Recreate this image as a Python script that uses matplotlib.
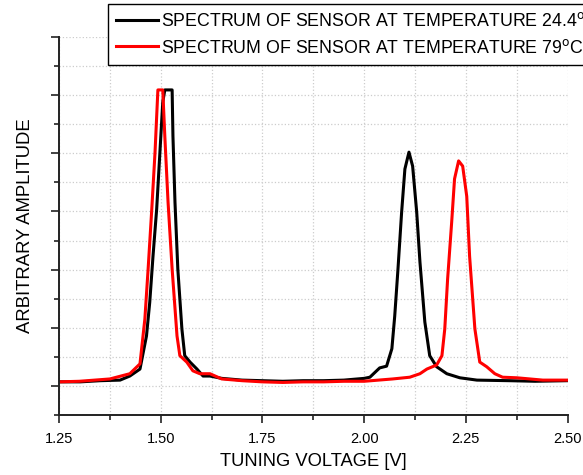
import matplotlib.pyplot as plt
from matplotlib.ticker import MultipleLocator

plt.rcParams['font.family'] = ['Liberation Sans', 'DejaVu Sans']

# -------------------------------
# Data
# -------------------------------
x_black = [1.250, 1.302, 1.351, 1.400, 1.424, 1.449, 1.465, 1.473, 1.481, 1.490,
           1.498, 1.505, 1.510, 1.528, 1.530, 1.535, 1.542, 1.552, 1.559, 1.572,
           1.589, 1.604, 1.621, 1.650, 1.700, 1.750, 1.800, 1.850, 1.900, 1.950,
           2.000, 2.014, 2.038, 2.055, 2.068, 2.075, 2.083, 2.092, 2.100, 2.110,
           2.119, 2.129, 2.137, 2.149, 2.161, 2.178, 2.203, 2.235, 2.277, 2.358,
           2.420, 2.498]
y_black = [0.07, 0.07, 0.09, 0.10, 0.17, 0.29, 0.86, 1.44, 2.23, 3.04,
           4.02, 4.88, 5.09, 5.09, 4.30, 3.16, 2.01, 0.98, 0.52, 0.41,
           0.29, 0.17, 0.17, 0.13, 0.10, 0.09, 0.08, 0.09, 0.09, 0.10,
           0.13, 0.15, 0.31, 0.34, 0.64, 1.20, 2.01, 2.99, 3.73, 4.02,
           3.78, 2.99, 2.13, 1.10, 0.52, 0.33, 0.21, 0.14, 0.10, 0.09,
           0.08, 0.09]

x_red = [1.250, 1.300, 1.375, 1.424, 1.449, 1.461, 1.469, 1.478, 1.486, 1.493,
         1.505, 1.510, 1.518, 1.528, 1.540, 1.547, 1.564, 1.579, 1.596, 1.621,
         1.650, 1.700, 1.750, 1.800, 1.850, 1.900, 1.950, 2.000, 2.070, 2.112,
         2.137, 2.154, 2.178, 2.191, 2.198, 2.205, 2.215, 2.222, 2.232, 2.242,
         2.252, 2.259, 2.272, 2.284, 2.301, 2.321, 2.340, 2.375, 2.439, 2.498]
y_red = [0.07, 0.08, 0.12, 0.21, 0.38, 1.15, 2.01, 3.04, 4.02, 5.09,
         5.09, 4.30, 3.16, 2.01, 0.86, 0.52, 0.41, 0.26, 0.21, 0.21,
         0.12, 0.09, 0.07, 0.06, 0.07, 0.07, 0.08, 0.08, 0.12, 0.15,
         0.21, 0.29, 0.36, 0.52, 0.98, 1.84, 2.82, 3.56, 3.87, 3.78,
         3.26, 2.23, 0.98, 0.41, 0.33, 0.21, 0.15, 0.14, 0.10, 0.10]

label_black = "SPECTRUM OF SENSOR AT TEMPERATURE 24.4$^{\\mathrm{o}}$C"
label_red = "SPECTRUM OF SENSOR AT TEMPERATURE 79$^{\\mathrm{o}}$C"

# -------------------------------
# Plot
# -------------------------------
fig = plt.figure(figsize=(5.83, 4.75), dpi=100)
ax = fig.add_axes([0.1012, 0.1263, 0.8725, 0.7958])

l1, = ax.plot(x_black, y_black, color="black", lw=2.2, label=label_black)
l2, = ax.plot(x_red, y_red, color="#ff0000", lw=2.2, label=label_red)

ax.set_xlim(1.25, 2.50)
ax.set_ylim(-0.5, 6.0)
ax.xaxis.set_major_locator(MultipleLocator(0.25))
ax.xaxis.set_minor_locator(MultipleLocator(0.125))
ax.yaxis.set_major_locator(MultipleLocator(1))
ax.yaxis.set_minor_locator(MultipleLocator(0.5))
ax.set_xticks([1.25, 1.50, 1.75, 2.00, 2.25, 2.50])
ax.set_xticklabels(["1.25", "1.50", "1.75", "2.00", "2.25", "2.50"])
ax.set_yticklabels([])

ax.grid(True, which="both", color="#cccccc", linestyle=":", lw=0.9)
ax.set_axisbelow(True)

for s in ["top", "right"]:
    ax.spines[s].set_visible(False)
for s in ["left", "bottom"]:
    ax.spines[s].set_color("#222222")
    ax.spines[s].set_linewidth(1.4)

ax.tick_params(which="major", direction="out", length=6, width=1.2,
               color="#222222", labelsize=10.5, pad=6)
ax.tick_params(which="minor", direction="out", length=3.5, width=1.2,
               color="#222222")

ax.set_xlabel("TUNING VOLTAGE [V]", fontsize=13.2, labelpad=5)
ax.set_ylabel("ARBITRARY AMPLITUDE", fontsize=13.3, labelpad=6)

# legend box runs past the right edge, as in the reference
leg = fig.legend(handles=[l1, l2], loc="upper left",
                 bbox_to_anchor=(108 / 583, 1 - 4 / 475),
                 fontsize=12.8, frameon=True, fancybox=False,
                 handlelength=2.35, handletextpad=0.2, borderpad=0.45,
                 labelspacing=0.48, borderaxespad=0)
leg.get_frame().set_edgecolor("black")
leg.get_frame().set_linewidth(1.0)
leg.get_frame().set_alpha(1)

fig.savefig("out.png", dpi=100)
